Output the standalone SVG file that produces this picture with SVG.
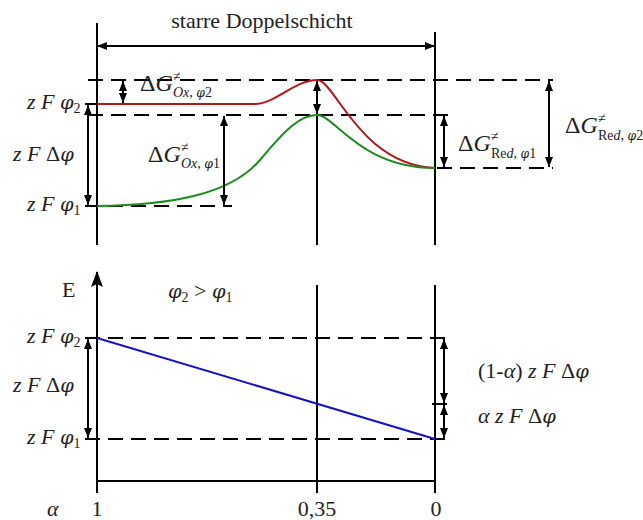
<svg xmlns="http://www.w3.org/2000/svg" width="643" height="520" viewBox="0 0 643 520">
<style>
.t{font-family:"Liberation Serif","Times New Roman",serif;fill:#222;font-size:22px}
.i{font-style:italic}
.p{font-family:"DejaVu Serif",serif;font-style:italic;font-size:0.88em}
.g{font-size:24px}
.s{font-size:14px}
.ax{stroke:#000;stroke-width:2;fill:none}
.d{stroke:#000;stroke-width:2;fill:none;stroke-dasharray:15 8}
.ar{stroke:#000;stroke-width:2;fill:none;marker-start:url(#ah);marker-end:url(#ah)}
</style>
<defs>
<marker id="ah" viewBox="0 0 10 8" refX="10" refY="4" markerWidth="10" markerHeight="8" markerUnits="userSpaceOnUse" orient="auto-start-reverse">
<path d="M0,0 L10,4 L0,8 z" fill="#000"/>
</marker>
<marker id="big" viewBox="0 0 16 12" refX="15" refY="6" markerWidth="16" markerHeight="12" markerUnits="userSpaceOnUse" orient="auto">
<path d="M0,0 L16,6 L0,12 L3,6 z" fill="#000"/>
</marker>
</defs>
<rect width="643" height="520" fill="#fff"/>

<g id="top-axes">
<line class="ax" x1="97" y1="23" x2="97" y2="245"/>
<line class="ax" x1="317" y1="115" x2="317" y2="245"/>
<line class="ax" x1="435" y1="32" x2="435" y2="245"/>
<line class="ax" x1="85" y1="104" x2="97" y2="104"/>
</g>
<g id="top-dashes">
<line class="d" x1="88" y1="80" x2="553" y2="80"/>
<line class="d" x1="88" y1="115" x2="452" y2="115"/>
<line class="d" x1="437" y1="168" x2="553" y2="168"/>
<line class="d" x1="85" y1="206" x2="232" y2="206"/>
</g>
<g id="curves">
<path d="M97,104 L255,104 C275,104 295,80 317,80 C335,80 360,165 435,168" stroke="#b01818" stroke-width="2" fill="none"/>
<path d="M97,206 C170,205 230,195 260,160 C285,130 300,115 317,115 C335,115 360,168 435,168" stroke="#1e8a1e" stroke-width="2" fill="none"/>
</g>

<g id="bottom-axes">
<line class="ax" x1="97" y1="493" x2="97" y2="272" marker-end="url(#big)"/>
<line class="ax" x1="317" y1="285" x2="317" y2="493"/>
<line class="ax" x1="435" y1="285" x2="435" y2="493"/>
<line class="ax" x1="97" y1="481" x2="435" y2="481"/>
<line class="ax" x1="432" y1="404" x2="447" y2="404"/>
<line class="d" x1="85" y1="338" x2="447" y2="338"/>
<line class="d" x1="85" y1="439" x2="447" y2="439"/>
<line x1="97" y1="338" x2="435" y2="439" stroke="#1414c0" stroke-width="2"/>
</g>

<g id="connectors">
<line class="ar" x1="97" y1="46" x2="435" y2="46"/>
<line class="ar" x1="123" y1="81" x2="123" y2="103"/>
<line class="ar" x1="88" y1="105" x2="88" y2="205"/>
<line class="ar" x1="224" y1="116" x2="224" y2="205"/>
<line class="ar" x1="317" y1="81" x2="317" y2="114"/>
<line class="ar" x1="444" y1="116" x2="444" y2="167"/>
<line class="ar" x1="549" y1="81" x2="549" y2="167"/>
<line class="ar" x1="88" y1="339" x2="88" y2="438"/>
<line class="ar" x1="444" y1="339" x2="444" y2="403"/>
<line class="ar" x1="444" y1="405" x2="444" y2="438"/>
</g>

<g id="labels-top">
<text class="t" x="262" y="28" text-anchor="middle">starre Doppelschicht</text>
<text class="t" x="27" y="109"><tspan class="i">z F </tspan><tspan class="p">φ</tspan><tspan class="s" dy="4">2</tspan></text>
<text class="t" x="13" y="161"><tspan class="i">z F </tspan>Δ<tspan class="p">φ</tspan></text>
<text class="t" x="27" y="211"><tspan class="i">z F </tspan><tspan class="p">φ</tspan><tspan class="s" dy="4">1</tspan></text>
<g id="dG-ox-2">
<text class="t g" x="140" y="91">Δ<tspan class="i">G</tspan></text>
<text class="t s" x="173" y="81">≠</text>
<text class="t s" x="173" y="97"><tspan class="i">Ox</tspan>, <tspan class="p">φ</tspan>2</text>
</g>
<g id="dG-ox-1">
<text class="t g" x="148" y="162">Δ<tspan class="i">G</tspan></text>
<text class="t s" x="181" y="152">≠</text>
<text class="t s" x="181" y="168"><tspan class="i">Ox</tspan>, <tspan class="p">φ</tspan>1</text>
</g>
<g id="dG-red-1">
<text class="t g" x="458" y="151">Δ<tspan class="i">G</tspan></text>
<text class="t s" x="491" y="141">≠</text>
<text class="t s" x="491" y="158">Re<tspan class="i">d</tspan>, <tspan class="p">φ</tspan>1</text>
</g>
<g id="dG-red-2">
<text class="t g" x="565" y="133">Δ<tspan class="i">G</tspan></text>
<text class="t s" x="598" y="123">≠</text>
<text class="t s" x="598" y="140">Re<tspan class="i">d</tspan>, <tspan class="p">φ</tspan>2</text>
</g>
</g>

<g id="labels-bottom">
<text class="t" x="62" y="297">E</text>
<text class="t" x="168" y="298"><tspan class="p">φ</tspan><tspan class="s" dy="4">2</tspan><tspan dy="-4"> &gt; </tspan><tspan class="p">φ</tspan><tspan class="s" dy="4">1</tspan></text>
<text class="t" x="27" y="343"><tspan class="i">z F </tspan><tspan class="p">φ</tspan><tspan class="s" dy="4">2</tspan></text>
<text class="t" x="13" y="392"><tspan class="i">z F </tspan>Δ<tspan class="p">φ</tspan></text>
<text class="t" x="27" y="444"><tspan class="i">z F </tspan><tspan class="p">φ</tspan><tspan class="s" dy="4">1</tspan></text>
<text class="t" x="478" y="378">(1-<tspan class="i">α</tspan>) <tspan class="i">z F </tspan>Δ<tspan class="p">φ</tspan></text>
<text class="t" x="478" y="423"><tspan class="i">α z F </tspan>Δ<tspan class="p">φ</tspan></text>
<text class="t i" x="47" y="516">α</text>
<text class="t" x="97" y="516" text-anchor="middle">1</text>
<text class="t" x="317" y="516" text-anchor="middle">0,35</text>
<text class="t" x="436" y="516" text-anchor="middle">0</text>
</g>
</svg>
